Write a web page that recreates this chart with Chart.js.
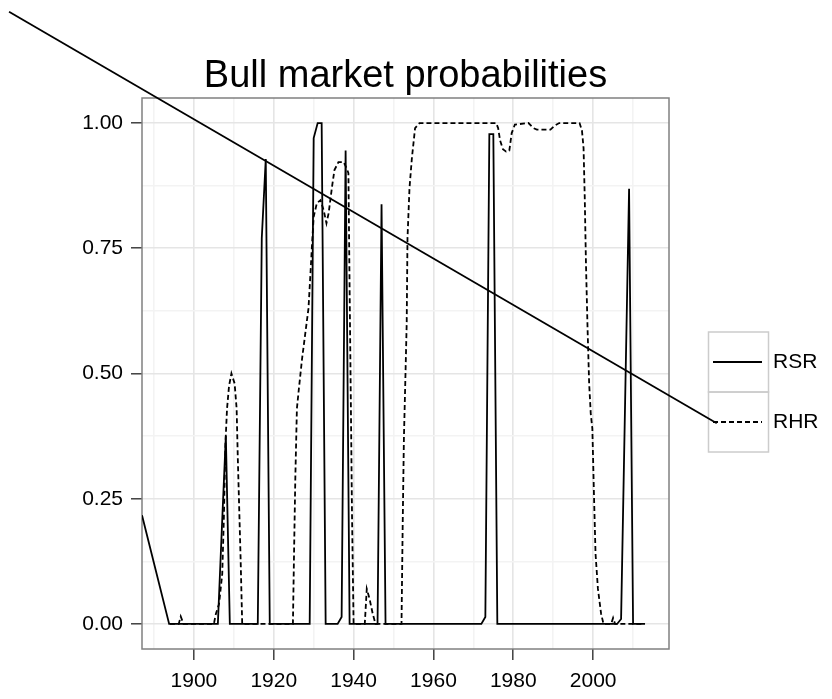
<!DOCTYPE html>
<html>
<head>
<meta charset="utf-8">
<title>Bull market probabilities</title>
<script src="https://cdn.jsdelivr.net/npm/chart.js@4.4.1/dist/chart.umd.min.js"></script>
<style>
    html, body { margin: 0; padding: 0; background: #fff; }
    #contenedor { width: 832px; height: 699px; position: relative; }
</style>
</head>
<body>
<div id="contenedor"><canvas id="graficaProbabilidades"></canvas></div>
<script>
// RSR model: probability of a bull regime (solid line)
const rsrYears  = [1887, 1893.8, 1906, 1907, 1908, 1909, 1916, 1917, 1918, 1919,
                   1929, 1930, 1931, 1932, 1933, 1936, 1937, 1938, 1939, 1946, 1947, 1948,
                   1972, 1973, 1974, 1975, 1976, 2006, 2007, 2008, 2009, 2010, 2013];
const rsrValues = [0.217, 0, 0, 0.19, 0.375, 0, 0, 0.77, 0.928, 0,
                   0, 0.97, 1.0, 1.0, 0, 0, 0.014, 0.945, 0, 0, 0.838, 0,
                   0, 0.014, 0.978, 0.978, 0, 0, 0.01, 0.44, 0.869, 0, 0];

// RHR model: probability of a bull regime (dashed line)
const rhrYears  = [1894, 1896.2, 1896.7, 1897.4, 1905, 1905.5, 1906.3, 1907.1, 1907.5, 1907.9,
                   1908.3, 1908.8, 1909.4, 1910.2, 1910.7, 1911.0, 1911.7, 1912.1, 1924.8, 1925.1,
                   1925.4, 1925.8, 1926.3, 1927.1, 1927.9, 1928.7, 1929.2, 1929.6, 1930.0, 1930.8,
                   1931.7, 1932.5, 1933.2, 1933.75, 1934.6, 1935.2, 1936.2, 1937.5, 1938.3, 1938.7,
                   1939.0, 1939.3, 1939.6, 1940.0, 1942.8, 1943.3, 1944.0, 1944.8, 1945.5, 1952.0,
                   1952.3, 1952.6, 1953.0, 1953.3, 1953.5, 1954.0, 1954.6, 1955.4, 1956.5, 1975.7,
                   1976.2, 1976.7, 1977.4, 1978.2, 1979.0, 1979.6, 1980.4, 1983.8, 1985.0, 1985.9,
                   1989.3, 1990.4, 1991.5, 1996.6, 1997.2, 1997.6, 1997.9, 1998.2, 1998.6, 1999.0,
                   1999.4, 1999.8, 2000.2, 2000.6, 2001.2, 2002.0, 2002.6, 2004.5, 2005.0, 2005.5,
                   2012.4];
const rhrValues = [0, 0, 0.015, 0, 0, 0.02, 0.04, 0.10, 0.21, 0.36,
                   0.43, 0.475, 0.5, 0.48, 0.43, 0.33, 0.13, 0, 0, 0.15,
                   0.29, 0.43, 0.47, 0.53, 0.58, 0.63, 0.70, 0.76, 0.813, 0.84,
                   0.846, 0.826, 0.80, 0.82, 0.873, 0.906, 0.922, 0.922, 0.909, 0.9,
                   0.67, 0.45, 0.22, 0, 0, 0.07, 0.05, 0.02, 0, 0,
                   0.2, 0.37, 0.5, 0.6, 0.77, 0.87, 0.93, 0.99, 1.0, 1.0,
                   0.99, 0.965, 0.948, 0.943, 0.945, 0.98, 0.997, 1.0, 0.99, 0.987,
                   0.987, 0.995, 1.0, 1.0, 0.985, 0.95, 0.85, 0.72, 0.59, 0.48,
                   0.42, 0.39, 0.26, 0.14, 0.07, 0.02, 0, 0, 0.012, 0,
                   0];

// long straight segment that runs past the panel (not clipped)
const crossYears  = [1853.7, 2030.96];
const crossValues = [1.2223, 0.4006];

// ticks: labelled (major) and unlabelled (minor)
const xMajorTicks = [1900, 1920, 1940, 1960, 1980, 2000];
const xMinorTicks = [1890, 1910, 1930, 1950, 1970, 1990, 2010];
const yMajorTicks = [0, 0.25, 0.5, 0.75, 1.0];
const yTickLabels = ['0.00', '0.25', '0.50', '0.75', '1.00'];
const yMinorTicks = [0.125, 0.375, 0.625, 0.875];

const fuente = '"Liberation Sans", Arial, sans-serif';

function toPoints(xs, ys) {
    return xs.map((x, i) => ({ x: x, y: ys[i] }));
}

function gridFor(majors) {
    return {
        color: (c) => majors.includes(c.tick.value) ? '#e5e5e5' : '#f3f3f3',
        lineWidth: 1.6,
        tickColor: (c) => majors.includes(c.tick.value) ? '#333333' : 'rgba(0,0,0,0)',
        tickWidth: 1.4,
        tickLength: 11
    };
}

// panel frame, title and key boxes
const marco = {
    id: 'marco',
    beforeDatasetsDraw(chart) {
        const ctx = chart.ctx;
        const a = chart.chartArea;
        ctx.save();
        ctx.strokeStyle = '#808080';
        ctx.lineWidth = 1.5;
        ctx.strokeRect(a.left, a.top, a.right - a.left, a.bottom - a.top);

        ctx.fillStyle = '#000';
        ctx.font = '38px ' + fuente;
        ctx.textAlign = 'center';
        ctx.textBaseline = 'middle';
        ctx.fillText('Bull market probabilities', (a.left + a.right) / 2, 77);

        const sets = chart.data.datasets.filter(d => d.label);
        sets.forEach((ds, i) => {
            const top = 332 + i * 60;
            ctx.setLineDash([]);
            ctx.strokeStyle = '#cccccc';
            ctx.lineWidth = 1.5;
            ctx.strokeRect(708.5, top, 60, 60);
            ctx.strokeStyle = ds.borderColor;
            ctx.lineWidth = ds.borderWidth;
            ctx.setLineDash(ds.borderDash || []);
            ctx.beginPath();
            ctx.moveTo(713, top + 30);
            ctx.lineTo(762, top + 30);
            ctx.stroke();
            ctx.setLineDash([]);
            ctx.fillStyle = '#000';
            ctx.font = '21px ' + fuente;
            ctx.textAlign = 'left';
            ctx.fillText(ds.label, 773, top + 30);
        });
        ctx.restore();
    }
};

new Chart(document.getElementById('graficaProbabilidades'), {
    type: 'line',
    data: {
        datasets: [{
            label: 'RSR',
            data: toPoints(rsrYears, rsrValues),
            borderColor: '#000000',
            borderWidth: 1.8,
            pointRadius: 0,
            tension: 0
        }, {
            label: 'RHR',
            data: toPoints(rhrYears, rhrValues),
            borderColor: '#000000',
            borderWidth: 1.8,
            borderDash: [5, 3],
            pointRadius: 0,
            tension: 0
        }, {
            label: '',
            data: toPoints(crossYears, crossValues),
            borderColor: '#000000',
            borderWidth: 1.8,
            pointRadius: 0,
            clip: false
        }]
    },
    options: {
        responsive: true,
        maintainAspectRatio: false,
        animation: false,
        events: [],
        layout: {
            padding: { top: 98, right: 163, bottom: 0, left: 0 }
        },
        scales: {
            x: {
                type: 'linear',
                min: 1887,
                max: 2019,
                afterFit: (scale) => { scale.height = 50; },
                afterBuildTicks: (scale) => {
                    scale.ticks = xMajorTicks.concat(xMinorTicks).sort((a, b) => a - b).map(v => ({ value: v }));
                },
                border: { display: false },
                grid: gridFor(xMajorTicks),
                ticks: {
                    autoSkip: false,
                    maxRotation: 0,
                    padding: 9,
                    color: '#000',
                    font: { family: fuente, size: 21 },
                    callback: (v) => xMajorTicks.includes(v) ? String(v) : ''
                }
            },
            y: {
                type: 'linear',
                min: -0.05,
                max: 1.05,
                afterFit: (scale) => { scale.width = 142; },
                afterBuildTicks: (scale) => {
                    scale.ticks = yMajorTicks.concat(yMinorTicks).sort((a, b) => a - b).map(v => ({ value: v }));
                },
                border: { display: false },
                grid: gridFor(yMajorTicks),
                ticks: {
                    autoSkip: false,
                    padding: 8,
                    color: '#000',
                    font: { family: fuente, size: 21 },
                    callback: (v) => {
                        const i = yMajorTicks.indexOf(v);
                        return i >= 0 ? yTickLabels[i] : '';
                    }
                }
            }
        },
        plugins: {
            legend: { display: false },
            title: { display: false },
            tooltip: { enabled: false }
        }
    },
    plugins: [marco]
});
</script>
</body>
</html>
